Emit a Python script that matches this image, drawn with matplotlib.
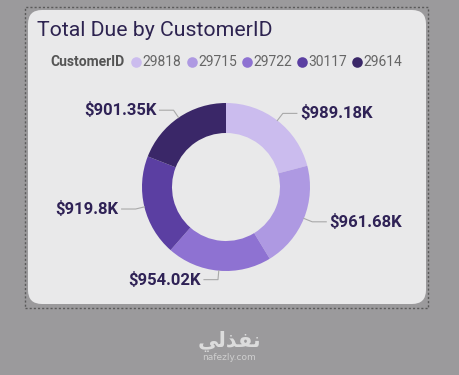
import numpy as np
import matplotlib.pyplot as plt
from matplotlib.patches import FancyBboxPatch, Rectangle

# data
customers = ['29818', '29715', '29722', '30117', '29614']
total_due = [989.18, 961.68, 954.02, 919.80, 901.35]
value_labels = ['$989.18K', '$961.68K', '$954.02K', '$919.8K', '$901.35K']
colors = ['#cbbcee', '#ae99e2', '#8e72d2', '#5b3fa2', '#3a2768']

W, H = 459, 375
fig = plt.figure(figsize=(W / 100, H / 100), dpi=100)
fig.patch.set_facecolor('#9b9a9c')
ax = fig.add_axes([0, 0, 1, 1])


def py(y):
    # pixel row from top -> data y
    return H - y


# donut
cx, cy, r = 226, py(187), 84
wedges, _ = ax.pie(total_due, colors=colors, startangle=90, counterclock=False,
                   center=(cx, cy), radius=r,
                   wedgeprops=dict(width=30, edgecolor='none'))
for w in wedges:
    w.set_zorder(3)

ax.set_xlim(0, W)
ax.set_ylim(0, H)
ax.set_aspect('equal')
ax.axis('off')

# card and dotted focus border
card = FancyBboxPatch((28, py(304)), 398, 294,
                      boxstyle='round,pad=0,rounding_size=14',
                      facecolor='#e9e9ea', edgecolor='none', zorder=1)
ax.add_patch(card)
ax.add_patch(Rectangle((25, py(308)), 403, 301, fill=False,
                       edgecolor='#5a5a5a', linewidth=1.0,
                       linestyle=(0, (1.5, 1.5)), zorder=2))

ax.text(37, py(30), 'Total Due by CustomerID', fontsize=15.3,
        family='Roboto', color='#2d2350', va='center', ha='left', zorder=3)

# legend
renderer = fig.canvas.get_renderer()
t = ax.text(50, py(62), 'CustomerID', fontsize=10, family='Roboto',
            fontweight='bold', color='#555555', va='center', zorder=3)
bb = t.get_window_extent(renderer)
x = bb.x1 + 12
for name, c in zip(customers, colors):
    ax.scatter([x], [py(62)], s=58, color=c, zorder=3, linewidths=0)
    lt = ax.text(x + 6.5, py(62), name, fontsize=10, family='Roboto',
                 color='#666666', va='center', zorder=3)
    x = lt.get_window_extent(renderer).x1 + 10

total = sum(total_due)
start = 0.0
for val, lab in zip(total_due, value_labels):
    mid = np.radians((start + val / 2) / total * 360)
    start += val
    sx, sy = np.sin(mid), np.cos(mid)
    p0 = (cx + r * sx, cy + r * sy)
    p1 = (cx + (r + 9) * sx, cy + (r + 9) * sy)
    side = 1 if sx >= 0 else -1
    p2 = (p1[0] + side * 14, p1[1])
    ax.plot([p0[0], p1[0], p2[0]], [p0[1], p1[1], p2[1]],
            color='#a9a9a9', linewidth=0.8, zorder=3)
    ax.text(p2[0] + side * 3, p2[1], lab, fontsize=12, family='Roboto',
            fontweight='bold', color='#2f2256',
            ha='left' if side > 0 else 'right', va='center', zorder=3)

# watermark
ax.text(229, py(341), '\ufef2\ufedf\ufeac\ufed4\ufee7', fontsize=15,
        family='DejaVu Sans', fontweight='bold', color='#dcdcdc',
        ha='center', va='center', zorder=3)
ax.text(229, py(357), 'nafezly.com', fontsize=6.5, family='DejaVu Sans',
        color='#cfcfcf', ha='center', va='center', zorder=3)

fig.savefig('out.png', dpi=100, facecolor=fig.get_facecolor())
